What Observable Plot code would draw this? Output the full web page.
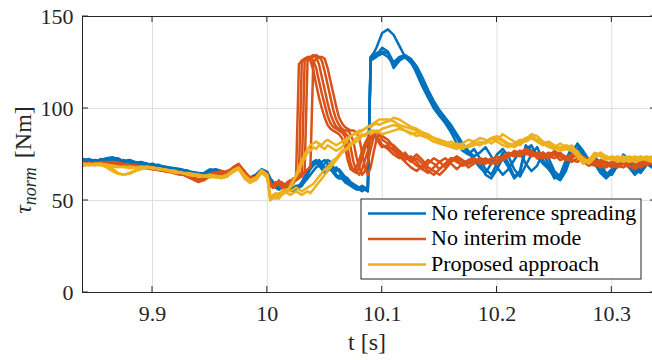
<!DOCTYPE html>
<html><head><meta charset="utf-8">
<script src="https://cdn.jsdelivr.net/npm/d3@7"></script>
<script src="https://cdn.jsdelivr.net/npm/@observablehq/plot@0.6"></script>
<style>body{margin:0;background:#fff;font-family:"Liberation Serif",serif;} #chart{width:652px;height:360px;overflow:hidden;}</style>
</head><body><div id="chart"></div>
<script>
// ---- time grids (s) ----
const tPre = [9.840,9.845,9.850,9.855,9.860,9.865,9.870,9.875,9.880,9.885,
  9.890,9.895,9.900,9.905,9.910,9.915,9.920,9.925,9.930,9.935,
  9.940,9.945,9.950,9.955,9.960,9.965,9.970,9.975,9.980,9.985,
  9.990,9.995,10.000];
const tMid = [10.0025,10.005,10.0075,10.01,10.0125,10.015,10.0175,10.02,10.0225,10.025,
  10.0275,10.03,10.0325,10.035,10.0375,10.04,10.0425,10.045,10.0475,10.05,
  10.0525,10.055,10.0575,10.06,10.0625,10.065,10.0675,10.07,10.0725,10.075,
  10.0775,10.08,10.0825,10.085,10.0875,10.09,10.0925,10.095,10.0975,10.1];
const tPost = [10.105,10.11,10.115,10.12,10.125,10.13,10.135,10.14,10.145,10.15,
  10.155,10.16,10.165,10.17,10.175,10.18,10.185,10.19,10.195,10.2,
  10.205,10.21,10.215,10.22,10.225,10.23,10.235,10.24,10.245,10.25,
  10.255,10.26,10.265,10.27,10.275,10.28,10.285,10.29,10.295,10.3,
  10.305,10.31,10.315,10.32,10.325,10.33,10.335,10.34];

const seriesNames = ["No reference spreading", "No interim mode", "Proposed approach"];
const seriesColors = ["#0072BD", "#D95319", "#EDB120"];
const xTicks = [9.9, 10, 10.1, 10.2, 10.3];
const yTicks = [0, 50, 100, 150];

// ---- No reference spreading (blue), tau_norm [Nm] ----
const blue1 = [72,72.5,71.5,72,73,73.5,72.5,71.5,72,71, 70.5,70,69.5,69,68.5,68,67.5,67,66,65.5, 65,64.5,66,67,66,65,66.5,68.5,65,62, 63,66.5,65,
  62,60,58,57,58,59,58,57,56,57, 58,60,63,66,69,71,72,70,68,70, 72,71,68,66,67,65,63,62,60,59, 58,57,58,57,56,128,130,133,137,141,
  143,140,134,128,125,121,114,106,100,96, 92,87,81,77,75,78,73,67,64,70, 76,70,63,66,80,77,73,75,70,64, 62,70,78,80,75,71,72,67,63,66, 71,74,70,66,68,71,69,67];
const blue2 = [71,71.5,72,71,72,72.5,71.5,72,70.5,70, 70,69.5,69,68,68.5,67.5,66.5,66.5,65.5,65, 64,64.5,65.5,66,65,64,66,68,66,61, 62,65.5,64,
  61,59,57,56,57,58,58,56,55,56, 57,58,61,64,67,69,70,72,70,67, 69,70,67,64,63,64,62,60,59,58, 57,57,56,56,55,127,128,129,129,130,
  128,124,127,128,126,119,112,106,101,96, 93,89,84,79,76,73,70,64,62,67, 73,68,62,65,78,80,74,70,67,63, 61,66,75,81,77,72,70,65,62,65, 70,73,71,65,66,70,68,70];
const blue3 = [72.5,71.5,71,72.5,72,73,73,71,71.5,70.5, 71,70,69,69.5,68,67.5,67,66,66.5,64.5, 64.5,65,67,66.5,65.5,64.5,67,69,64.5,62.5, 64,67,65.5,
  62,60,58,58,59,59,57,56,57,58, 58,59,62,65,68,70,71,69,71,72, 70,68,66,68,66,63,61,61,59,58, 57,56,57,56,57,128,129,130,131,133,
  131,125,128,129,127,123,117,110,104,99, 95,91,86,81,77,74,76,79,74,68, 64,67,72,77,70,66,69,76,73,66, 63,68,76,78,74,70,73,69,64,67, 72,72,68,64,67,70,70,68];
const blue4 = [71.5,72,71,71.5,72.5,72,72,70.5,71,70.5, 69.5,69.5,70,68.5,67.5,67.5,66,66.5,65,64, 63.5,64,66,65.5,64.5,65,65.5,67.5,65.5,61.5, 62.5,66,64.5,
  61,58,57,56,57,57,58,57,55,56, 57,58,60,62,64,66,68,69,67,65, 66,67,65,63,62,62,60,59,58,57, 56,56,55,56,55,126,127,128,130,131,
  130,122,126,128,125,120,114,108,102,97, 94,90,85,80,76,72,68,65,70,75, 78,74,67,63,69,75,79,72,68,62, 64,72,79,77,72,69,74,70,65,64, 69,75,72,67,65,69,71,69];

// ---- No interim mode (orange) ----
const orange1 = [70,70.5,70,70.5,71,70.5,70,69.5,69.5,69, 68.5,68,67.5,67.5,67,66,65.5,65,64.5,63, 61.5,62,64,65.5,65,66,67.5,69.5,65,62, 63,66,64,
  58,57,59,60,58,57,59,60,61,63, 124,126,127,127,126,121,113,106,100,95, 91,89,88,87,86,84,80,72,67,66, 68,72,77,81,84,86,85,84,82,80,
  78,75,73,76,72,69,67,70,73,71, 68,72,74,72,70,71,73,72,70,71, 73,75,76,75,77,76,74,73,75,76, 74,72,73,75,73,70,69,71,70,68, 70,71,69,68,70,71,70,69];
const orange2 = [69.5,70,70.5,70,70,71,69.5,69,69,68.5, 68,68.5,67,66.5,66,65.5,65,64.5,63.5,62, 60.5,61,63.5,64.5,64,65.5,67,69,64.5,61, 62,65.5,63,
  59,58,58,61,59,58,58,61,60,62, 64,125,127,128,128,126,122,115,108,102, 96,92,90,89,88,87,85,78,70,66, 65,68,73,78,82,85,86,84,81,79,
  80,77,74,71,68,66,69,72,70,67, 70,73,71,69,71,72,70,71,73,72, 74,76,75,77,76,74,75,76,74,73, 75,74,72,71,73,72,70,68,69,71, 69,68,70,72,71,69,71,70];
const orange3 = [70.5,69.5,70,71,70.5,70,70.5,70,68.5,69, 68,67.5,67,67,66.5,66,64.5,64,64,62.5, 61,62.5,64.5,65,66,65,68,70,66,62.5, 62.5,66.5,64.5,
  60,57,58,59,60,58,57,59,62,61, 63,65,126,127,128,129,128,124,117,110, 103,97,93,90,89,88,87,85,79,71, 66,64,67,72,77,83,86,85,83,80,
  79,78,75,72,74,71,67,65,68,71, 73,70,67,70,72,73,71,70,72,74, 72,74,77,76,75,77,73,74,76,75, 72,73,75,74,72,71,72,70,68,70, 72,70,68,69,71,72,70,71];
const orange4 = [69,70,69.5,70,71,70.5,69.5,69,69.5,68.5, 68.5,67.5,68,66.5,66,65.5,65.5,64.5,63,61.5, 60,61.5,63,64,64.5,65.5,66.5,68.5,64,61.5, 61.5,65,63.5,
  58,58,60,59,57,58,60,61,59,62, 64,63,66,126,128,128,129,128,126,120, 113,106,99,94,91,89,88,88,86,82, 74,68,64,66,71,78,84,87,86,83,
  81,80,77,74,71,73,70,66,64,67, 70,73,72,69,70,72,71,73,71,70, 72,75,74,76,78,75,74,75,74,77, 75,72,74,76,71,69,70,72,71,69, 68,70,71,70,68,70,72,71];
const orange5 = [70,70.5,69.5,70.5,70,71,70,69.5,69,69.5, 67.5,68,67.5,67,66,66.5,65,64,64,62.5, 61,62,64,65,65.5,64.5,67,69,65.5,60.5, 62.5,65.5,63,
  59,57,58,60,59,57,58,60,60,61, 62,64,65,67,68,125,127,128,128,127, 122,115,108,101,95,92,90,89,88,88, 87,84,76,68,64,68,76,83,86,85,
  83,79,76,74,72,75,72,68,66,64, 67,71,73,71,68,70,72,71,70,72, 73,74,76,74,76,75,76,74,73,75, 76,73,71,73,74,72,70,69,71,70, 69,71,69,67,69,71,71,70];

// ---- Proposed approach (yellow) ----
const yellow1 = [69.5,69,70,69.5,68,66,64.5,64,65,66.5, 67.5,67.5,68,67.5,67,66,65.5,65,64.5,64, 63.5,63,63,62.5,62.5,63.5,65.5,67,63,60, 62,65.5,63,
  50,52,51,53,54,55,56,57,60,64, 68,72,75,78,80,81,82,81,80,82, 83,82,81,80,81,82,83,84,85,86, 86,87,88,89,90,90,91,92,91,92,
  93,95,94,92,90,89,87,86,84,83, 82,80,81,79,80,82,84,83,81,83, 86,84,82,80,83,86,85,82,80,79, 81,79,78,77,72,70,73,76,74,73, 71,72,74,73,72,74,73,72];
const yellow2 = [70,69.5,69,70,69,67.5,65,64,64.5,66, 67,68,67.5,67,67,66.5,66,65,65,64.5, 64,63.5,62.5,63,62,63,66,67.5,62,59.5, 61.5,66,62,
  52,53,54,53,55,56,55,58,61,63, 66,70,73,76,77,79,78,80,79,78, 80,79,78,77,78,79,81,83,85,86, 87,88,88,89,90,91,92,93,94,94,
  94,93,91,90,89,88,87,85,84,82, 81,82,80,81,83,82,80,82,84,85, 83,81,80,82,84,85,83,81,82,80, 78,80,79,75,71,72,75,74,72,74, 73,71,72,74,73,72,71,72];
const yellow3 = [69,70,69.5,69,69.5,69,68.5,68,68.5,68, 68.5,68,67.5,67.5,66.5,66,66,65,64.5,64, 63,63.5,64,63.5,63,64,66.5,68,64,61, 62.5,66.5,64,
  53,51,52,54,53,55,54,53,54,55, 54,53,54,55,54,56,58,60,62,64, 66,68,70,72,74,76,77,78,80,81, 82,83,85,86,87,88,88,87,88,89,
  90,91,90,88,87,85,86,84,82,81, 80,79,78,80,79,80,82,81,83,84, 82,80,79,81,83,84,82,80,81,79, 77,78,80,76,73,71,74,75,73,72, 74,73,71,72,74,73,72,73];
const yellow4 = [70,69.5,70,70,69.5,68.5,68,68.5,67.5,68, 67.5,68.5,68,67,66.5,66,65,65.5,64,63.5, 64,63,63.5,63,62.5,63,65.5,67,62.5,60, 61,65,63,
  51,53,52,51,53,54,56,55,56,57, 56,55,56,57,58,59,61,63,65,67, 68,70,72,73,75,77,78,79,81,82, 84,85,86,85,87,86,87,88,87,86,
  87,88,89,88,86,87,85,84,82,83, 81,80,79,78,80,81,80,82,84,82, 80,79,81,83,82,84,83,81,79,78, 79,78,77,74,70,72,76,75,74,73, 72,74,73,71,72,73,74,73];

// ---- assemble long table ----
const times = tPre.concat(tMid, tPost);
const traces = [
  [seriesNames[0], "b1", blue1], [seriesNames[0], "b2", blue2], [seriesNames[0], "b3", blue3], [seriesNames[0], "b4", blue4],
  [seriesNames[1], "o1", orange1], [seriesNames[1], "o2", orange2], [seriesNames[1], "o3", orange3], [seriesNames[1], "o4", orange4], [seriesNames[1], "o5", orange5],
  [seriesNames[2], "y1", yellow1], [seriesNames[2], "y2", yellow2], [seriesNames[2], "y3", yellow3], [seriesNames[2], "y4", yellow4]
];
const rows = [];
for (const [series, id, vals] of traces) {
  const n = Math.min(vals.length, times.length);
  for (let i = 0; i < n; i++) rows.push({t: times[i], v: vals[i], series, trace: id});
}

const FONT = "Liberation Serif";
const AX = "#262626";

const chart = Plot.plot({
  width: 652, height: 360,
  marginLeft: 82, marginRight: -4, marginTop: 16, marginBottom: 68,
  style: {fontFamily: FONT, fontSize: "22px", color: AX, background: "white"},
  x: {domain: [9.83904, 10.3389]},
  y: {domain: [0, 150]},
  color: {domain: seriesNames, range: seriesColors},
  marks: [
    Plot.gridX(xTicks, {stroke: "#dfdfdf", strokeOpacity: 1}),
    Plot.gridY(yTicks, {stroke: "#dfdfdf", strokeOpacity: 1}),
    Plot.line(rows, {x: "t", y: "v", z: "trace", stroke: "series", strokeWidth: 2.5, clip: true}),
    Plot.frame({stroke: AX, strokeWidth: 1}),
    Plot.axisX(xTicks, {tickSize: 0, tickPadding: 13, label: null, tickFormat: d => String(d), fill: AX}),
    Plot.axisY(yTicks, {tickSize: 0, tickPadding: 9, label: null, tickFormat: d => String(d), fill: AX})
  ]
});
document.getElementById("chart").appendChild(chart);

// ---- inward tick marks (MATLAB style), labels, legend ----
const sx = chart.scale("x"), sy = chart.scale("y");
const [L, R] = sx.range, [B, T] = sy.range;
const svg = d3.select(chart);
const g = svg.append("g").attr("stroke", AX).attr("stroke-width", 1);
for (const v of xTicks) {
  const px = sx.apply(v);
  g.append("line").attr("x1", px).attr("x2", px).attr("y1", B).attr("y2", B - 6);
  g.append("line").attr("x1", px).attr("x2", px).attr("y1", T).attr("y2", T + 6);
}
for (const v of yTicks) {
  const py = sy.apply(v);
  g.append("line").attr("x1", L).attr("x2", L + 6).attr("y1", py).attr("y2", py);
  g.append("line").attr("x1", R).attr("x2", R - 6).attr("y1", py).attr("y2", py);
}

// x label
svg.append("text").attr("x", 367).attr("y", 350).attr("text-anchor", "middle")
  .attr("font-family", FONT).attr("font-size", 24).attr("fill", AX).text("t [s]");

// y label: tau_norm [Nm]
const yl = svg.append("text").attr("transform", "translate(31,160) rotate(-90)")
  .attr("text-anchor", "middle").attr("font-family", FONT).attr("font-size", 24).attr("fill", AX);
yl.append("tspan").attr("font-style", "italic").text("τ");
yl.append("tspan").attr("font-style", "italic").attr("font-size", 18).attr("dy", 5).text("norm");
yl.append("tspan").attr("dy", -5).attr("dx", 9).text("[Nm]");

// legend
const lg = svg.append("g");
lg.append("rect").attr("x", 361).attr("y", 199).attr("width", 280).attr("height", 80)
  .attr("fill", "white").attr("stroke", AX).attr("stroke-width", 1);
seriesNames.forEach((name, i) => {
  const yy = 213.5 + i * 25.5;
  lg.append("line").attr("x1", 368).attr("x2", 426).attr("y1", yy).attr("y2", yy)
    .attr("stroke", seriesColors[i]).attr("stroke-width", 2.5);
  lg.append("text").attr("x", 431).attr("y", yy + 6).attr("text-anchor", "start")
    .attr("font-family", FONT).attr("font-size", 22).attr("fill", "#000").text(name);
});
</script>
</body></html>
